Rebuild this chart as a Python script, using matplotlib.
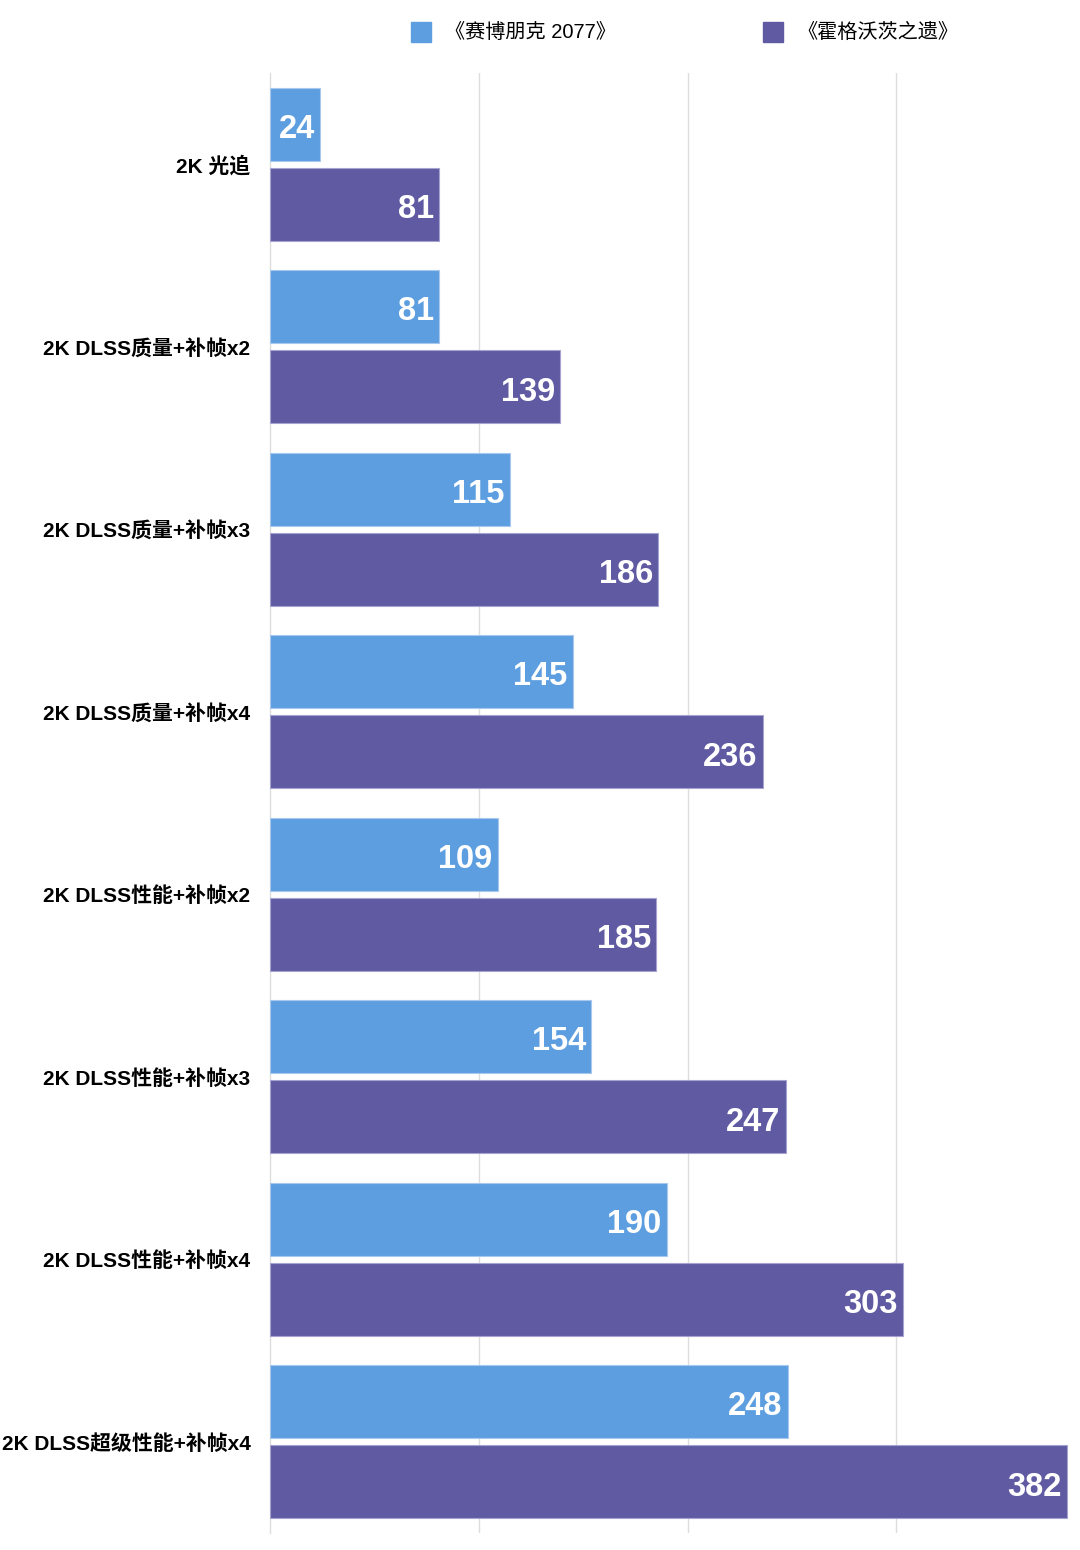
import matplotlib
matplotlib.use("Agg")
import matplotlib.pyplot as plt
import numpy as np
from matplotlib.patches import Rectangle

categories = ["2K 光追", "2K DLSS质量+补帧x2", "2K DLSS质量+补帧x3", "2K DLSS质量+补帧x4",
              "2K DLSS性能+补帧x2", "2K DLSS性能+补帧x3", "2K DLSS性能+补帧x4",
              "2K DLSS超级性能+补帧x4"]
cyberpunk = [24, 81, 115, 145, 109, 154, 190, 248]
hogwarts = [81, 139, 186, 236, 185, 247, 303, 382]
series_names = ["《赛博朋克 2077》", "《霍格沃茨之遗》"]

blue = "#5D9EE0"
purple = "#5F5AA2"
fonts = ["Liberation Sans", "Noto Sans CJK SC", "DejaVu Sans"]
plt.rcParams["font.family"] = fonts

fig = plt.figure(figsize=(10.8, 15.5), dpi=100)
ax = fig.add_axes([0.25, 1 - 1533 / 1550, 0.75, 1460 / 1550])

y = np.arange(len(categories)) + 0.5
h = 0.40
off = 0.22
b1 = ax.barh(y - off, cyberpunk, height=h, color=blue, edgecolor="#A9C8EE", linewidth=0.8, zorder=3)
b2 = ax.barh(y + off, hogwarts, height=h, color=purple, edgecolor="#A6A3D0", linewidth=0.8, zorder=3)

for bars, vals in ((b1, cyberpunk), (b2, hogwarts)):
    for bar, v in zip(bars, vals):
        ax.text(bar.get_width() - 2.6, bar.get_y() + bar.get_height() / 2 + 0.01, str(v),
                ha="right", va="center_baseline", color="white", fontsize=23.5,
                fontweight="bold", zorder=4)

ax.set_xlim(0, 388)
ax.set_ylim(len(categories), 0)
ax.set_xticks([100, 200, 300])
ax.set_xticklabels([])
ax.tick_params(axis="x", length=0)
ax.grid(axis="x", color="#DDDDDD", linewidth=1, zorder=0)
ax.set_yticks(y)
ax.set_yticklabels(categories, fontsize=15, fontweight="bold")
ax.tick_params(axis="y", length=0, pad=14)
for s in ("top", "right", "bottom"):
    ax.spines[s].set_visible(False)
ax.spines["left"].set_color("#DDDDDD")
ax.spines["left"].set_linewidth(1)

# legend
for x0, c, name in ((411, blue, series_names[0]), (763, purple, series_names[1])):
    fig.patches.append(Rectangle((x0 / 1080, 1 - 42 / 1550), 20 / 1080, 20 / 1550,
                                 transform=fig.transFigure, color=c))
    fig.text((x0 + 34) / 1080, 1 - 32 / 1550, name, ha="left", va="center", fontsize=14.5)

fig.savefig("out.png", dpi=100, facecolor="white")
